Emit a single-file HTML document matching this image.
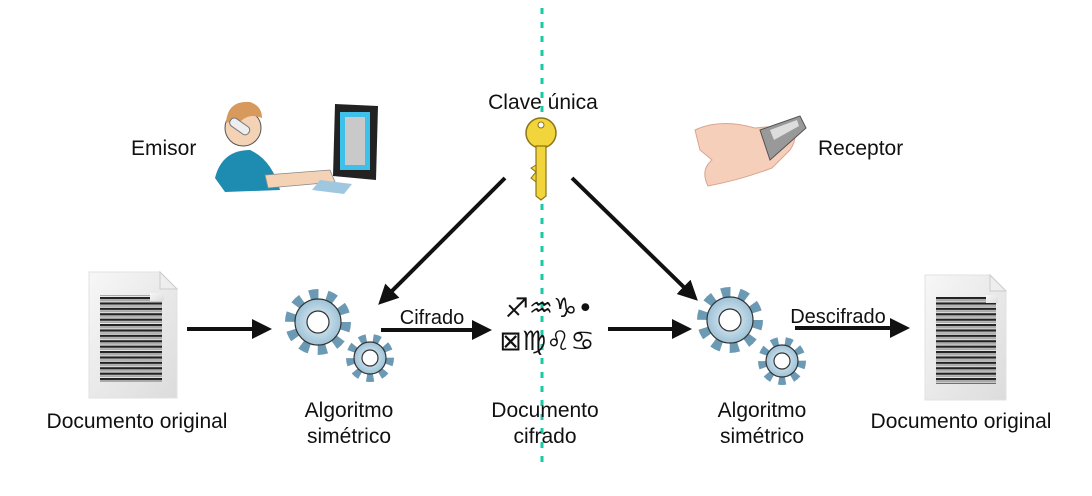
<!DOCTYPE html>
<html><head><meta charset="utf-8"><style>
html,body{margin:0;padding:0;background:#fff;}
svg{display:block;}
text{font-family:"Liberation Sans",sans-serif;fill:#111;}
</style></head><body>
<svg width="1092" height="496" viewBox="0 0 1092 496" xmlns="http://www.w3.org/2000/svg">
<defs>
<pattern id="ln" x="0" y="0" width="10" height="5.4" patternUnits="userSpaceOnUse">
<rect x="0" y="0" width="10" height="2.2" fill="#222"/>
<rect x="0" y="2.7" width="10" height="1.8" fill="#aaa"/>
</pattern>
<linearGradient id="pg" x1="0" y1="0" x2="1" y2="1"><stop offset="0" stop-color="#f7f7f7"/><stop offset="1" stop-color="#dcdcdc"/></linearGradient>
<radialGradient id="gg" cx="0.5" cy="0.5" r="0.6"><stop offset="0" stop-color="#e8f2f8"/><stop offset="1" stop-color="#8fb9d0"/></radialGradient>
<marker id="ah" viewBox="0 0 10 10" refX="8" refY="5" markerWidth="5" markerHeight="5" orient="auto"><path d="M0,0 L10,5 L0,10 z" fill="#111"/></marker>
</defs>

<line x1="542" y1="8" x2="542" y2="462" stroke="#19c9a6" stroke-width="3" stroke-dasharray="6,8"/>

<text x="131" y="155" font-size="21">Emisor</text>
<g>
<path d="M215,178 Q222,150 250,150 Q272,160 280,190 L225,192 Z" fill="#1e8bb0"/>
<circle cx="243" cy="128" r="18" fill="#f3d2b5" stroke="#555" stroke-width="1"/>
<path d="M226,122 Q228,100 250,102 Q262,106 262,118 Q248,112 238,124 Z" fill="#d79a5c"/>
<rect x="229" y="122" width="22" height="9" rx="4" fill="#eee" stroke="#777" transform="rotate(35 240 126)"/>
<path d="M265,175 L330,170 L335,182 L268,188 Z" fill="#f3d2b5" stroke="#888" stroke-width="0.8"/>
<path d="M335,104 L378,106 L376,180 L333,176 Z" fill="#222"/>
<rect x="340" y="112" width="30" height="58" fill="#3fc0ea"/>
<rect x="345" y="117" width="20" height="48" fill="#c9c9c9"/>
<path d="M320,180 L352,184 L344,194 L312,190 Z" fill="#9fc7e0"/>
</g>

<text x="818" y="155" font-size="21">Receptor</text>
<path d="M695,130 Q720,118 755,128 L790,125 Q800,135 790,150 L772,168 Q740,180 708,186 Q700,170 712,160 L700,150 Z" fill="#f5cfba" stroke="#d9a58f" stroke-width="1"/>
<path d="M760,130 L800,116 L806,128 L770,160 Z" fill="#999" stroke="#555" stroke-width="1"/>
<path d="M770,130 L797,120 L799,126 L774,140 Z" fill="#ddd"/>

<text x="543" y="109" font-size="21" text-anchor="middle">Clave única</text>
<circle cx="541" cy="133" r="15" fill="#f2d53a" stroke="#8a7418" stroke-width="1.5"/>
<circle cx="541" cy="125" r="3" fill="#fff" stroke="#8a7418"/>
<path d="M536,146 L546,146 L546,196 L541,200 L536,196 Z" fill="#f2d53a" stroke="#8a7418" stroke-width="1.2"/>
<path d="M536,165 L531,168 L536,172 L531,178 L536,182 Z" fill="#f2d53a" stroke="#8a7418" stroke-width="1"/>

<line x1="505" y1="178" x2="381" y2="302" stroke="#111" stroke-width="4" marker-end="url(#ah)"/>
<line x1="572" y1="178" x2="695" y2="298" stroke="#111" stroke-width="4" marker-end="url(#ah)"/>

<path d="M89,272 L160,272 L177,289 L177,398 L89,398 Z" fill="url(#pg)" stroke="#e2e2e2"/>
<path d="M160,272 L160,289 L177,289 Z" fill="#eee" stroke="#ccc"/>
<rect x="100" y="295" width="62" height="87" fill="url(#ln)"/>
<rect x="150" y="293" width="14" height="8" fill="url(#pg)"/>
<text x="137" y="428" font-size="21" text-anchor="middle">Documento original</text>

<path d="M925,275 L990,275 L1006,291 L1006,400 L925,400 Z" fill="url(#pg)" stroke="#e2e2e2"/>
<path d="M990,275 L990,291 L1006,291 Z" fill="#eee" stroke="#ccc"/>
<rect x="936" y="297" width="60" height="87" fill="url(#ln)"/>
<rect x="986" y="295" width="12" height="8" fill="url(#pg)"/>
<text x="961" y="428" font-size="21" text-anchor="middle">Documento original</text>

<line x1="187" y1="329" x2="268" y2="329" stroke="#111" stroke-width="4" marker-end="url(#ah)"/>
<line x1="381" y1="330" x2="488" y2="330" stroke="#111" stroke-width="4" marker-end="url(#ah)"/>
<text x="432" y="324" font-size="20" text-anchor="middle">Cifrado</text>
<line x1="608" y1="329" x2="688" y2="329" stroke="#111" stroke-width="4" marker-end="url(#ah)"/>
<line x1="795" y1="328" x2="906" y2="328" stroke="#111" stroke-width="4" marker-end="url(#ah)"/>
<text x="838" y="323" font-size="20" text-anchor="middle">Descifrado</text>

<g stroke="#333" stroke-width="1.2">
<circle cx="318" cy="322" r="28" fill="none" stroke="#6c9ab4" stroke-width="10" stroke-dasharray="9,8.6"/>
<circle cx="318" cy="322" r="23" fill="url(#gg)"/>
<circle cx="318" cy="322" r="11" fill="#fff"/>
<circle cx="370" cy="358" r="20" fill="none" stroke="#6c9ab4" stroke-width="8" stroke-dasharray="7,6.9"/>
<circle cx="370" cy="358" r="16" fill="url(#gg)"/>
<circle cx="370" cy="358" r="8" fill="#fff"/>
</g>
<text x="349" y="417" font-size="21" text-anchor="middle">Algoritmo</text>
<text x="349" y="443" font-size="21" text-anchor="middle">simétrico</text>

<g stroke="#333" stroke-width="1.2">
<circle cx="730" cy="320" r="28" fill="none" stroke="#6c9ab4" stroke-width="10" stroke-dasharray="9,8.6"/>
<circle cx="730" cy="320" r="23" fill="url(#gg)"/>
<circle cx="730" cy="320" r="11" fill="#fff"/>
<circle cx="782" cy="361" r="20" fill="none" stroke="#6c9ab4" stroke-width="8" stroke-dasharray="7,6.9"/>
<circle cx="782" cy="361" r="16" fill="url(#gg)"/>
<circle cx="782" cy="361" r="8" fill="#fff"/>
</g>
<text x="762" y="417" font-size="21" text-anchor="middle">Algoritmo</text>
<text x="762" y="443" font-size="21" text-anchor="middle">simétrico</text>

<text x="549" y="317" font-size="27" text-anchor="middle" style="font-family:'DejaVu Sans',sans-serif">♐♒♑•</text>
<text x="547" y="350" font-size="27" text-anchor="middle" style="font-family:'DejaVu Sans',sans-serif">⊠♍♌♋</text>
<text x="545" y="417" font-size="21" text-anchor="middle">Documento</text>
<text x="545" y="443" font-size="21" text-anchor="middle">cifrado</text>
</svg>
</body></html>
